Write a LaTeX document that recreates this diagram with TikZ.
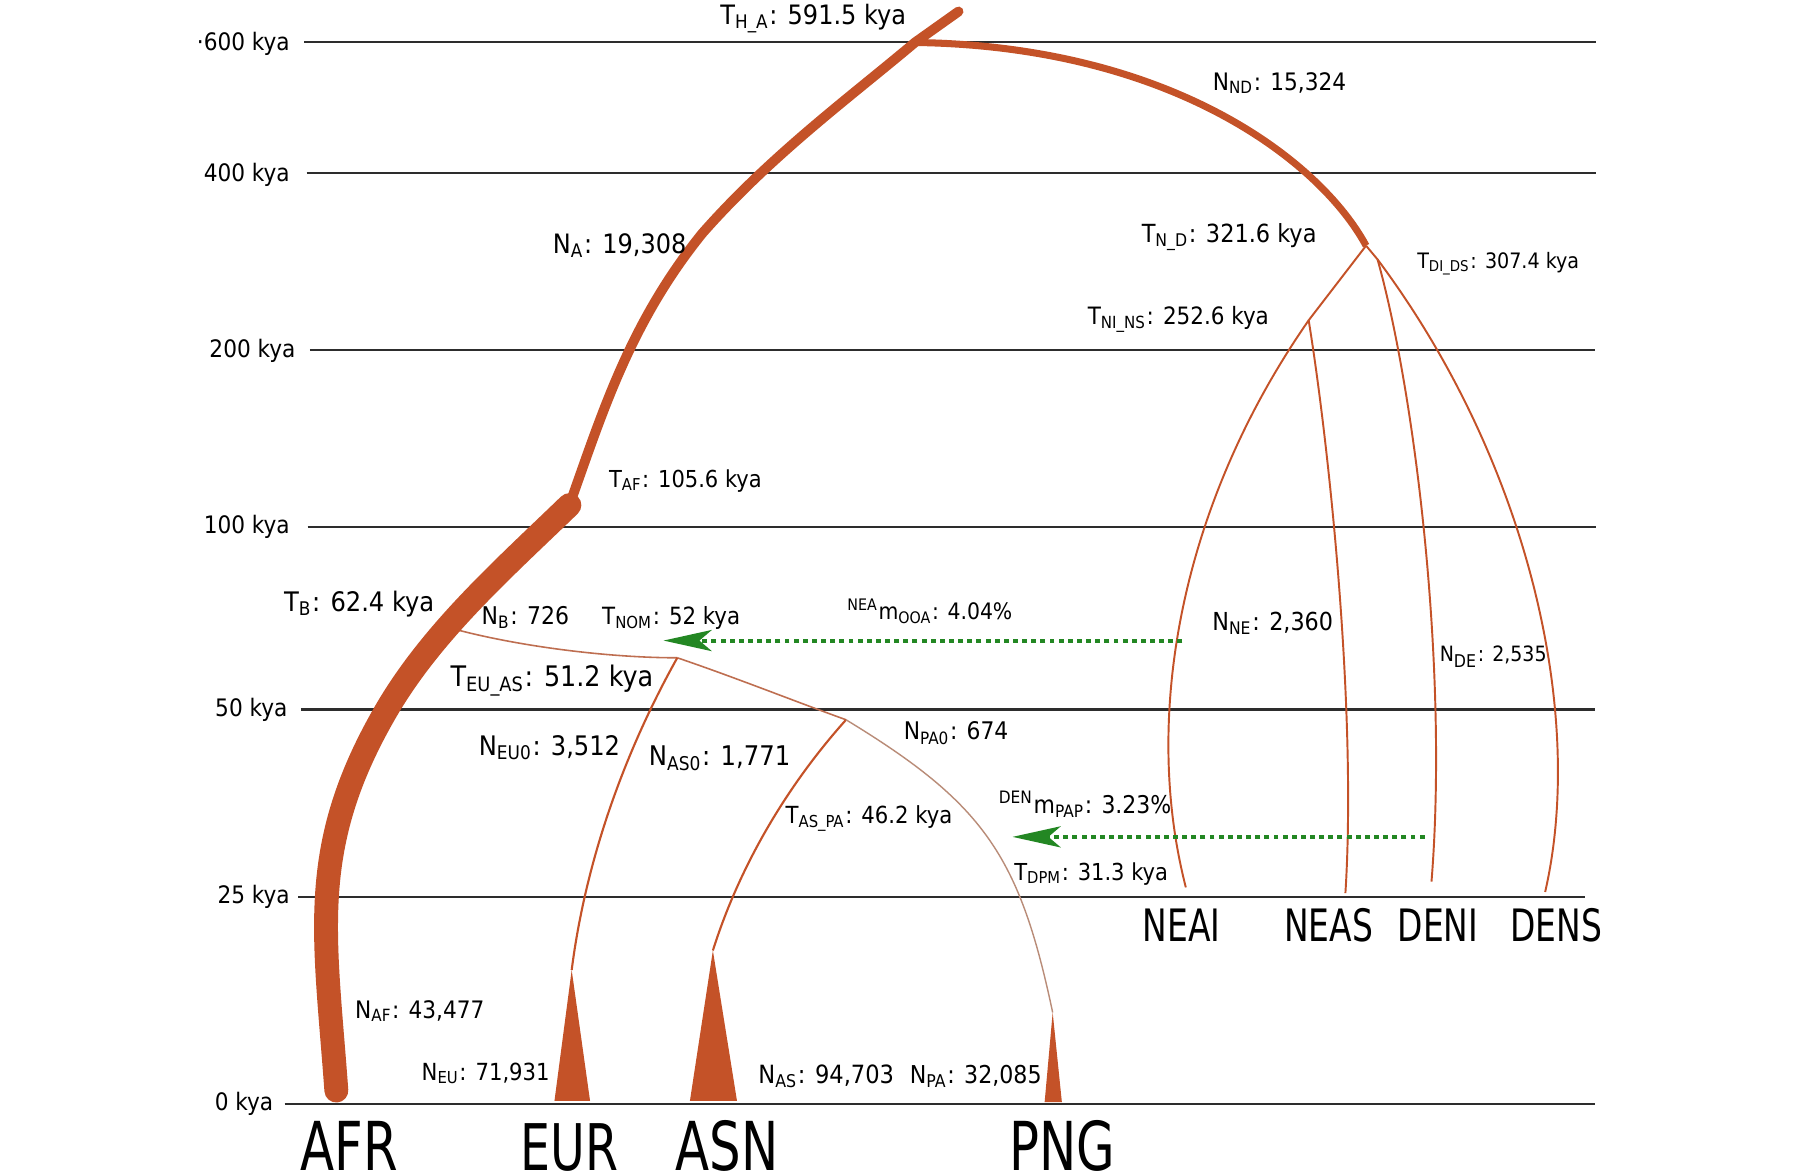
\documentclass[tikz,border=0pt]{standalone}
\usepackage{fontspec}
\setmainfont{DejaVu Sans Condensed}
\newfontfamily\popfont{DejaVu Sans Condensed}[FakeStretch=0.82]
\usetikzlibrary{arrows.meta}

\definecolor{branch}{RGB}{196,82,40}
\definecolor{thinbranch}{RGB}{190,110,80}
\definecolor{pngline}{RGB}{185,140,120}
\definecolor{mig}{RGB}{35,135,35}
\definecolor{grid}{RGB}{45,45,45}
\newcommand\fsz[1]{\fontsize{#1}{#1}\selectfont}

\tikzset{
  kya/.style={grid,line width=.6pt},
  ylab/.style={anchor=base east,inner sep=0pt,font=\fsz{6.85}},
  lab/.style={anchor=base west,inner sep=0pt},
  pop/.style={anchor=base west,inner sep=0pt,font={\popfont\fsz{12.7}}},
  bigpop/.style={anchor=base west,inner sep=0pt,font={\popfont\fsz{19.2}}},
  anc/.style={branch,line width=2.8pt,line cap=round,line join=round},
  ndb/.style={branch,line width=2pt},
  afrb/.style={branch,line width=6.8pt,line cap=round},
  thinb/.style={thinbranch,line width=.45pt},
  eub/.style={branch,line width=.6pt},
  pngb/.style={pngline,line width=.4pt},
  arch/.style={branch,line width=.55pt},
  migr/.style={mig,line width=1.1pt,dash pattern=on 1.4pt off 1.2pt,
    -{Stealth[length=13.7pt,width=6pt,inset=3.5pt]}}
}

\begin{document}
\begin{tikzpicture}[x=0.1148mm,y=-0.1148mm]
\useasboundingbox (0,0) rectangle (1568,1021);
\fill[white] (0,0) rectangle (1568,1021);

% time axis
\draw[kya] (265,36.5)--(1390,36.5);
\draw[kya] (267,151)--(1390,151);
\draw[kya] (270,304.5)--(1389,304.5);
\draw[kya] (268,459)--(1390,459);
\draw[kya] (262,618)--(1389,618);
\draw[kya] (260,781)--(1381,781);
\draw[kya] (248,962)--(1389,962);
\node[ylab] (k600) at (253,43.6) {·600 kya};
\node[ylab] (k400) at (253,158) {400 kya};
\node[ylab] (k200) at (258,311.5) {200 kya};
\node[ylab] (k100) at (253,465) {100 kya};
\node[ylab] (k50) at (251,624) {50 kya};
\node[ylab] (k25) at (253,787) {25 kya};
\node[ylab] (k0) at (238.6,967) {0 kya};

% split times and tips
\coordinate (top) at (835,10);
\coordinate (tha) at (797,37);
\coordinate (taf) at (496,440);
\coordinate (afr) at (293,950);
\coordinate (tnd) at (1190,214);
\coordinate (tnins) at (1140,279);
\coordinate (tdids) at (1200,226);
\coordinate (neai) at (1033,773);
\coordinate (neas) at (1172,778);
\coordinate (deni) at (1247,768);
\coordinate (dens) at (1346,777);
\coordinate (tb) at (392,547);
\coordinate (teuas) at (590,573);
\coordinate (taspa) at (737,627);
\coordinate (eur) at (498,845);
\coordinate (asn) at (621,828);
\coordinate (png) at (917,882);

% archaic side
\draw[arch] (tnd) -- (tnins);
\draw[arch] (tnins) .. controls (1026,443) and (995.5,627.5) .. (neai);
\draw[arch] (tnins) .. controls (1158,390) and (1182,620) .. (neas);
\draw[arch] (tnd) -- (tdids);
\draw[arch] (tdids) .. controls (1232,340) and (1262,580) .. (deni);
\draw[arch] (tdids) .. controls (1330,400) and (1382,620) .. (dens);

% out of Africa
\draw[thinb] (tb) .. controls (450,563) and (530,573) .. (teuas);
\draw[thinb] (teuas) .. controls (640,590) and (690,610) .. (taspa);
\draw[eub] (teuas) .. controls (543,657) and (510,751) .. (eur);
\draw[eub] (taspa) .. controls (685,685) and (644,755) .. (asn);
\draw[pngb] (taspa) .. controls (857,700) and (888,745) .. (png);
\fill[branch] (eur) -- ++(-15,114) -- ++(31,0) -- cycle;
\fill[branch] (asn) -- ++(-20,131) -- ++(41,0) -- cycle;
\fill[branch] (png) -- ++(-7,78) -- ++(15,0) -- cycle;

% ancestral trunk
\draw[ndb] (tha) .. controls (1020,40) and (1150,140) .. (tnd);
\draw[anc] (taf) .. controls (524,362) and (548,282) .. (612,203)
  .. controls (672,135) and (740,85) .. (tha) -- (top);
\draw[afrb] (taf) .. controls (437,497) and (377,550) .. (337,618)
  .. controls (267,738) and (283,812) .. (afr);

% admixture pulses
\coordinate (ooa) at (1030,558);
\coordinate (nom) at (578,558);
\coordinate (pap) at (1241,729);
\coordinate (dpm) at (882,729);
\draw[migr] (ooa) -- (nom);
\draw[migr] (pap) -- (dpm);

% parameters
\node[lab,font=\fsz{7.6}] (l-tha) at (627,21) {T\textsubscript{H\_A}: 591.5 kya};
\node[lab,font=\fsz{6.85}] (l-nnd) at (1056,78.4) {N\textsubscript{ND}: 15,324};
\node[lab,font=\fsz{7.6}] (l-na) at (481,221) {N\textsubscript{A}: 19,308};
\node[lab,font=\fsz{7.1}] (l-tnd) at (994,211.4) {T\textsubscript{N\_D}: 321.6 kya};
\node[lab,font=\fsz{6.05}] (l-tdids) at (1234,233.6) {T\textsubscript{DI\_DS}: 307.4 kya};
\node[lab,font=\fsz{6.8}] (l-tnins) at (947,283) {T\textsubscript{NI\_NS}: 252.6 kya};
\node[lab,font=\fsz{6.65}] (l-taf) at (530,424.5) {T\textsubscript{AF}: 105.6 kya};
\node[lab,font=\fsz{7.65}] (l-tb) at (246.8,532.8) {T\textsubscript{B}: 62.4 kya};
\node[lab,font=\fsz{6.95}] (l-nb) at (419,543.8) {N\textsubscript{B}: 726};
\node[lab,font=\fsz{6.75}] (l-tnom) at (524,543.8) {T\textsubscript{NOM}: 52 kya};
\node[lab,font=\fsz{6.45}] (l-mooa) at (737.5,539.5) {\textsuperscript{NEA}m\textsubscript{OOA}: 4.04\%};
\node[lab,font=\fsz{7.05}] (l-nne) at (1055.5,548.8) {N\textsubscript{NE}: 2,360};
\node[lab,font=\fsz{6}] (l-nde) at (1253.6,576.4) {N\textsubscript{DE}: 2,535};
\node[lab,font=\fsz{8.05}] (l-teuas) at (392,598) {T\textsubscript{EU\_AS}: 51.2 kya};
\node[lab,font=\fsz{7.65}] (l-neu0) at (416.5,657.7) {N\textsubscript{EU0}: 3,512};
\node[lab,font=\fsz{7.7}] (l-nas0) at (564.7,667) {N\textsubscript{AS0}: 1,771};
\node[lab,font=\fsz{6.9}] (l-npa0) at (786.7,644.6) {N\textsubscript{PA0}: 674};
\node[lab,font=\fsz{6.7}] (l-taspa) at (683.8,717.2) {T\textsubscript{AS\_PA}: 46.2 kya};
\node[lab,font=\fsz{6.95}] (l-mpap) at (869.5,709) {\textsuperscript{DEN}m\textsubscript{PAP}: 3.23\%};
\node[lab,font=\fsz{6.65}] (l-tdpm) at (883,766.6) {T\textsubscript{DPM}: 31.3 kya};
\node[lab,font=\fsz{6.85}] (l-naf) at (308.8,886.8) {N\textsubscript{AF}: 43,477};
\node[lab,font=\fsz{6.7}] (l-neu) at (366.7,940.8) {N\textsubscript{EU}: 71,931};
\node[lab,font=\fsz{7.15}] (l-nas) at (660,943.6) {N\textsubscript{AS}: 94,703};
\node[lab,font=\fsz{7}] (l-npa) at (792,943.6) {N\textsubscript{PA}: 32,085};

% populations
\node[pop] (p-neai) at (995,820) {NEAI};
\node[pop] (p-neas) at (1118,820) {NEAS};
\node[pop] (p-deni) at (1217,820) {DENI};
\node[pop] (p-dens) at (1315,820) {DENS};
\node[bigpop] (p-afr) at (261,1019.5) {AFR};
\node[bigpop,font={\popfont\fsz{18.3}}] (p-eur) at (453,1019.5) {EUR};
\node[bigpop] (p-asn) at (588,1019.5) {ASN};
\node[bigpop] (p-png) at (879,1019.5) {PNG};
\end{tikzpicture}
\end{document}
